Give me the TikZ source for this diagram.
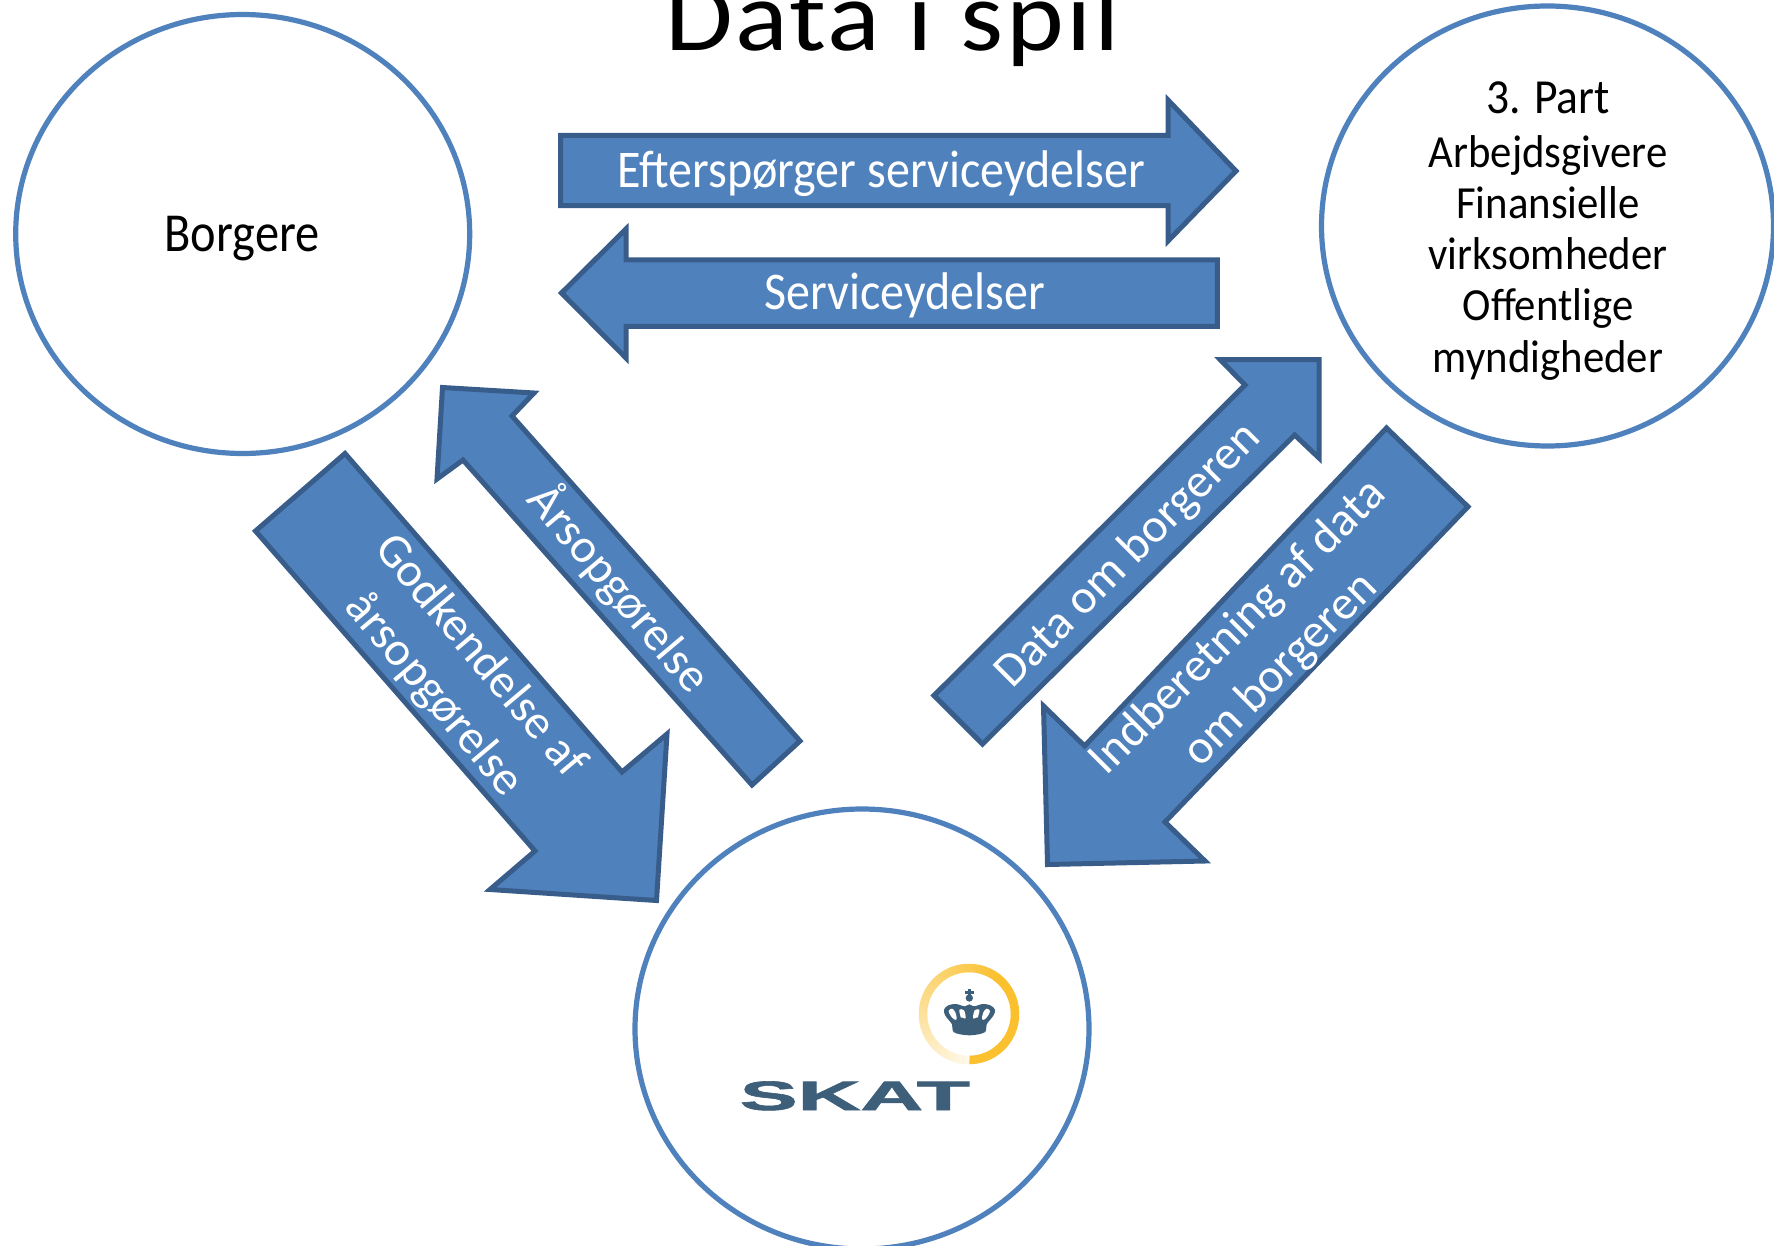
\documentclass[tikz,border=0pt]{standalone}
\usepackage{fontspec}
\setmainfont{Carlito}
\newfontfamily\condA[FakeStretch=.88]{Carlito}
\newfontfamily\condC[FakeStretch=.906]{Carlito}
\newfontfamily\condB[FakeStretch=.93]{Carlito}
\newfontfamily\wideT[FakeStretch=1.1,LetterSpace=2.6]{Carlito}
\newfontfamily\skatfont[BoldFeatures={FakeBold=1.5}]{Liberation Sans}
\usetikzlibrary{shapes.geometric}
\definecolor{arrowfill}{HTML}{4F81BD}
\definecolor{arrowline}{HTML}{385D8A}
\definecolor{skatblue}{HTML}{3E5F7A}
\definecolor{ringyellow}{HTML}{FAC02E}
\tikzset{
  party/.style={ellipse,draw=arrowfill,line width=5.2pt,fill=white,inner sep=0pt,minimum width=#1},
  blockarrow/.style={draw=arrowline,fill=arrowfill,line width=5pt,line join=miter},
  onarrow/.style={text=white,align=center,inner sep=0pt},
  blackline/.style={text=black,inner sep=0pt,anchor=base},
  difont/.style={font=\fontsize{48}{60}\selectfont},
}
\begin{document}
\begin{tikzpicture}[x=1pt,y=-1pt]
\path[use as bounding box] (0,0) rectangle (1774,1246);
\clip (0,0) rectangle (1774,1246);
\fill[white] (0,0) rectangle (1774,1246);

% title
\node[blackline] (title) at (892.5,51) {\fontsize{100}{100}\selectfont\wideT Data i spil};

% parties
\node[party=454pt,minimum height=439pt] (borgere) at (242.7,234) {};
\node[party=452pt,minimum height=440pt] (tredje) at (1547.5,226) {};
\node[party=454pt,minimum height=440pt] (skat) at (862,1029) {};

\node[blackline] (borgerelabel) at (242,251.5) {\fontsize{55}{55}\selectfont\condA Borgere};
\node[blackline] (part) at (1548,114) {\fontsize{49}{49}\selectfont\condB 3. Part};
\node[blackline] (p1) at (1548,167.5) {\fontsize{46}{46}\selectfont\condB Arbejdsgivere};
\node[blackline] (p2) at (1548,219) {\fontsize{46}{46}\selectfont\condB Finansielle};
\node[blackline] (p3) at (1548,270) {\fontsize{46}{46}\selectfont\condB virksomheder};
\node[blackline] (p4) at (1548,321) {\fontsize{46}{46}\selectfont\condB Offentlige};
\node[blackline] (p5) at (1548,372) {\fontsize{46}{46}\selectfont\condB myndigheder};

% block arrows
\draw[blockarrow] (560.7,135.5) -- (1168,135.5) -- (1168,100) -- (1236,171) -- (1168,241) -- (1168,205.7) -- (560.7,205.7) -- cycle;
\draw[blockarrow] (561.5,293) -- (626,229) -- (626,260) -- (1217.4,260) -- (1217.4,326.3) -- (626,326.3) -- (626,358) -- cycle;
\draw[blockarrow] (442.5,387.5) -- (534,393) -- (512,416) -- (800,741) -- (752,785) -- (463,460) -- (437,479) -- cycle;
\draw[blockarrow] (345,453.5) -- (255.5,531) -- (535,851) -- (490,889.5) -- (656.5,900.5) -- (667,734) -- (622,772) -- cycle;
\draw[blockarrow] (1319,359.5) -- (1220,359.5) -- (1245,385) -- (934,695.5) -- (982.5,744) -- (1294.7,435) -- (1319,458) -- cycle;
\draw[blockarrow] (1386.5,428) -- (1468,506.7) -- (1165,822) -- (1205,861) -- (1047.5,864.5) -- (1043.5,706) -- (1084.6,746) -- cycle;

% arrow labels
\node[onarrow,anchor=base] (eft) at (881,187.5) {\fontsize{53}{53}\selectfont\condC Efterspørger serviceydelser};
\node[onarrow,anchor=base] (srv) at (905,310) {\fontsize{53}{53}\selectfont\condC Serviceydelser};
\node[onarrow,rotate=-50,difont] (ars) at (620,588) {Årsopgørelse};
\node[onarrow,rotate=-50,difont] (god) at (456.5,676) {Godkendelse af\\årsopgørelse};
\node[onarrow,rotate=45,difont] (dat) at (1128.5,556) {Data om borgeren};
\node[onarrow,rotate=45,difont] (ind) at (1259.5,649) {Indberetning af data\\om borgeren};

% SKAT logo: ring
\foreach \a in {-90,-87,...,268} {
  \pgfmathsetmacro{\p}{\a<50 ? 100 : 100-(\a-50)*0.41}
  \draw[line width=8.5pt,color=ringyellow!\p!white]
    ({969+46*cos(\a)},{1014-46*sin(\a)}) -- ({969+46*cos(\a+3.6)},{1014-46*sin(\a+3.6)});
}
% SKAT logo: crown
\begin{scope}[x=.3333pt,y=-.3333pt,shift={(930pt,-975pt)}]
  \fill[skatblue] plot[smooth cycle,tension=.55] coordinates {
    (72,172) (66,148) (46,122) (42,104) (55,91) (78,87) (104,94) (118,88)
    (132,94) (158,87) (181,91) (195,104) (190,122) (170,148) (164,172) (118,181)};
  \fill[white] plot[smooth cycle,tension=.6] coordinates {(56,108) (66,101) (76,112) (80,132) (72,133) (62,122)};
  \fill[white] plot[smooth cycle,tension=.6] coordinates {(180,108) (170,101) (160,112) (156,132) (164,133) (174,122)};
  \fill[white] plot[smooth cycle,tension=.6] coordinates {(88,104) (102,106) (107,130) (98,128) (93,128) (90,118)};
  \fill[white] plot[smooth cycle,tension=.6] coordinates {(148,104) (134,106) (129,130) (138,128) (143,128) (146,118)};
  \fill[skatblue] (118,69) circle [radius=11];
  \fill[skatblue] (114,43) rectangle (122,62);
  \fill[skatblue] (104,49) rectangle (132,56);
\end{scope}
% SKAT logo: word
\node[inner sep=0pt,anchor=base west,text=skatblue] (skatword) at (739.5,1110)
  {\scalebox{2.12}[1]{\fontsize{41}{41}\selectfont\skatfont\bfseries SKAT}};
\end{tikzpicture}
\end{document}
